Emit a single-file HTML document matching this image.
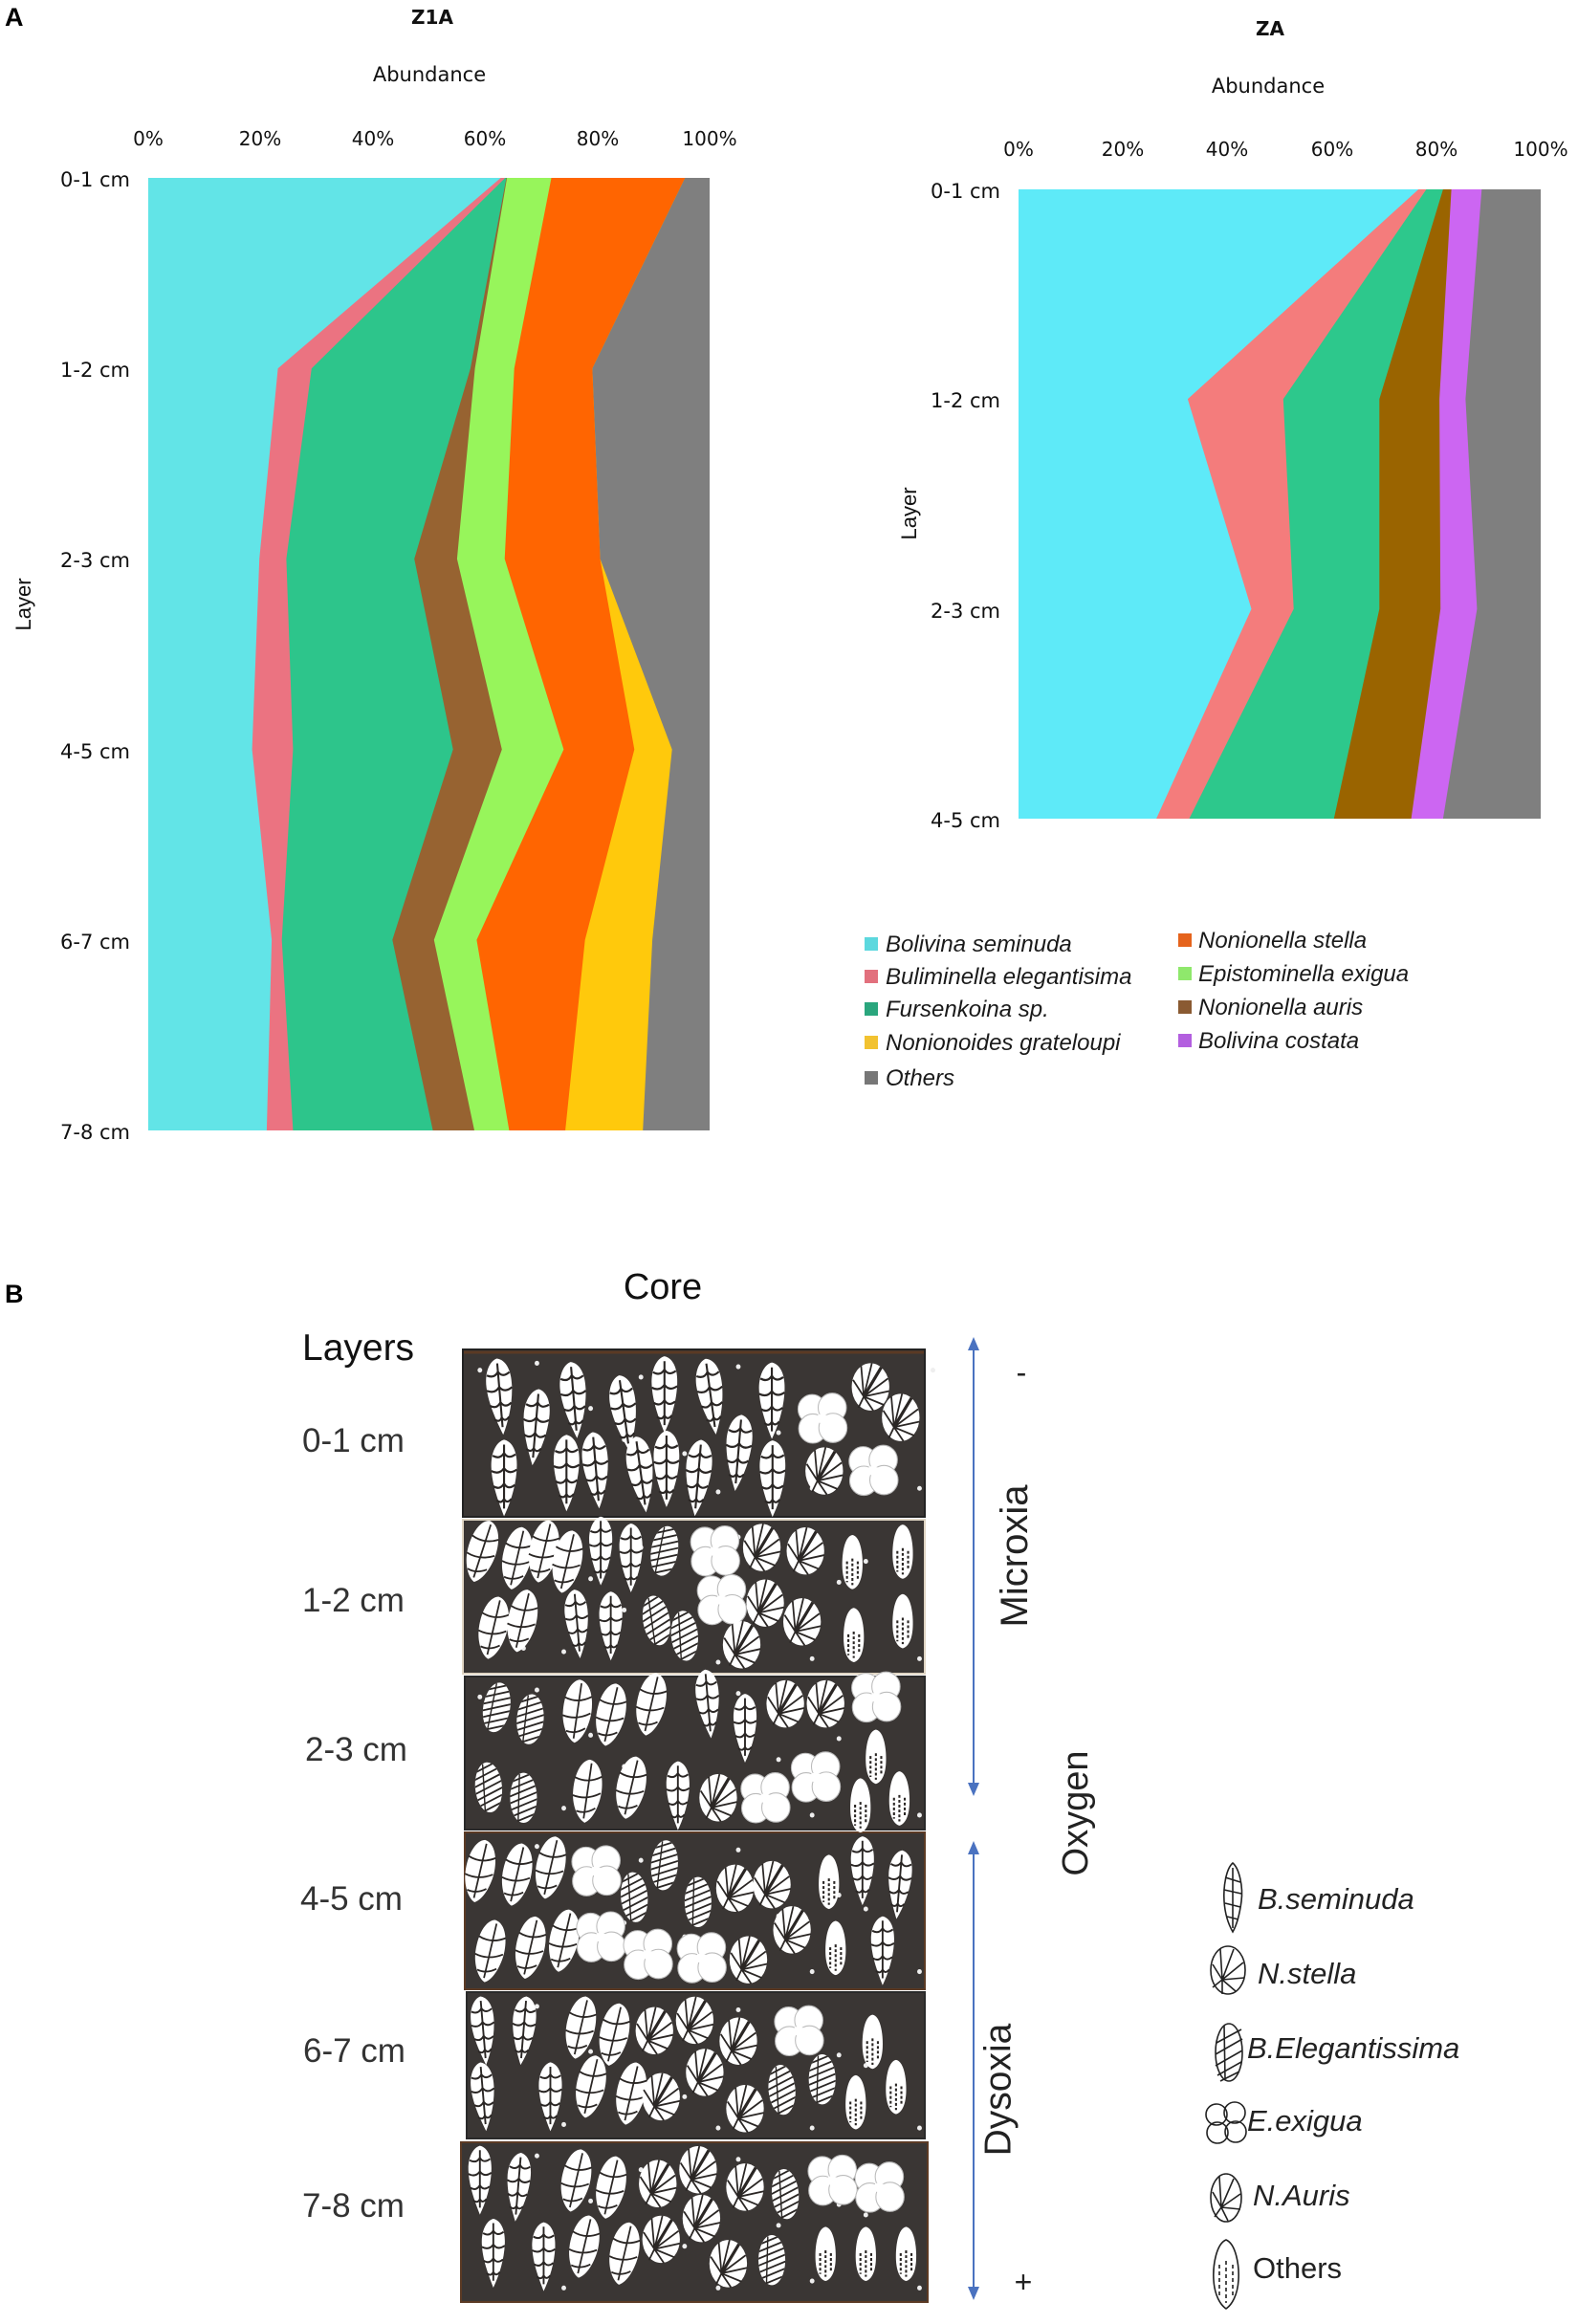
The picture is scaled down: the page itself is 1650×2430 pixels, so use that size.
<!DOCTYPE html>
<html><head><meta charset="utf-8"><style>
html,body{margin:0;padding:0;background:#fff;}
body{width:1650px;height:2430px;overflow:hidden;}
svg{display:block;}
.dv{font-family:"DejaVu Sans","Liberation Sans",sans-serif;fill:#111;}
.ls{font-family:"Liberation Sans",Arial,sans-serif;fill:#222;}
</style></head><body>
<svg width="1650" height="2430" viewBox="0 0 1650 2430" xmlns="http://www.w3.org/2000/svg">
<defs>
  <g id="L">
    <path d="M0,-55 C14,-52 20,-35 19,-15 C18,10 10,35 0,55 C-8,35 -18,10 -19,-15 C-20,-35 -12,-52 0,-55Z" fill="#fff"/>
    <path d="M-17,-32 Q-6,-26 0,-36 Q6,-26 17,-34 M-19,-10 Q-7,-4 0,-14 Q7,-4 19,-12 M-16,12 Q-6,18 0,8 Q6,18 16,10 M-11,32 Q-4,38 0,30 Q4,38 11,30 M0,-48 L0,44" stroke="#2a2624" stroke-width="3" fill="none"/>
  </g>
  <g id="P">
    <path d="M0,-45 C20,-42 24,-10 20,10 C16,30 8,42 0,46 C-10,42 -20,25 -21,5 C-22,-20 -14,-42 0,-45Z" fill="#fff"/>
    <path d="M-20,-18 Q0,-10 20,-22 M-21,8 Q0,14 20,2 M-14,30 Q0,34 14,24 M3,-40 L-2,40" stroke="#2a2624" stroke-width="2.5" fill="none"/>
  </g>
  <g id="S">
    <ellipse cx="0" cy="0" rx="28" ry="34" fill="#fff"/>
    <path d="M-10,14 L-26,-10 M-10,14 L-14,-30 M-10,14 L2,-34 M-10,14 L26,-12 M-10,14 L28,6 M-10,14 L20,26 M-10,14 L4,34 M-10,14 L-18,30" stroke="#2a2624" stroke-width="2.5" fill="none"/>
    <path d="M-10,14 L16,-28" stroke="#2a2624" stroke-width="4.5"/>
  </g>
  <g id="C">
    <circle cx="-15" cy="-13" r="21" fill="#fff" stroke="#bbb" stroke-width="1.5"/>
    <circle cx="15" cy="-15" r="21" fill="#fff" stroke="#bbb" stroke-width="1.5"/>
    <circle cx="-14" cy="15" r="21" fill="#fff" stroke="#bbb" stroke-width="1.5"/>
    <circle cx="16" cy="14" r="21" fill="#fff" stroke="#bbb" stroke-width="1.5"/>
    <path d="M-6,-6 L8,-4 L4,8 L-8,6Z" fill="#fff"/>
  </g>
  <clipPath id="ce"><ellipse cx="0" cy="0" rx="20" ry="36"/></clipPath>
  <g id="E">
    <ellipse cx="0" cy="0" rx="20" ry="36" fill="#fff"/>
    <g clip-path="url(#ce)" stroke="#2a2624" stroke-width="2.5">
      <path d="M-25,-30 L25,-50 M-25,-20 L25,-40 M-25,-10 L25,-30 M-25,0 L25,-20 M-25,10 L25,-10 M-25,20 L25,0 M-25,30 L25,10 M-25,40 L25,20 M-25,50 L25,30 M-25,60 L25,40"/>
    </g>
    <path d="M-6,-34 L-8,34" stroke="#2a2624" stroke-width="2"/>
  </g>
  <g id="O">
    <path d="M0,-38 C12,-36 16,-10 15,10 C14,28 8,38 0,40 C-8,38 -14,28 -15,10 C-16,-10 -12,-36 0,-38Z" fill="#fff"/>
    <path d="M-8,0 L-8,30 M0,-4 L0,34 M8,0 L8,28" stroke="#2a2624" stroke-width="3" stroke-dasharray="4 3"/>
  </g>
</defs>

<!-- ===== PANEL A ===== -->
<text x="5" y="27" class="ls" style="font-weight:bold;font-size:27px;fill:#000">A</text>

<!-- Z1A chart -->
<text x="452" y="25" text-anchor="middle" class="dv" style="font-weight:bold;font-size:20px">Z1A</text>
<text x="449" y="85" text-anchor="middle" class="dv" style="font-size:21px">Abundance</text>
<g class="dv" style="font-size:20px" text-anchor="middle">
  <text x="155" y="152">0%</text><text x="272" y="152">20%</text><text x="390" y="152">40%</text>
  <text x="507" y="152">60%</text><text x="625" y="152">80%</text><text x="742" y="152">100%</text>
</g>
<g class="dv" style="font-size:21px" text-anchor="end">
  <text x="136" y="195">0-1 cm</text><text x="136" y="394">1-2 cm</text><text x="136" y="593">2-3 cm</text>
  <text x="136" y="793">4-5 cm</text><text x="136" y="992">6-7 cm</text><text x="136" y="1191">7-8 cm</text>
</g>
<text transform="translate(32,632) rotate(-90)" text-anchor="middle" class="ls" style="font-size:22px;fill:#111">Layer</text>

<rect x="155" y="186" width="587" height="996" fill="#7f7f7f"/>
<polygon fill="#ffc90c" points="155,186 716.2,186 619.3,385.2 627.5,584.4 702.7,783.6 682.1,982.8 672.2,1182 155,1182"/>
<polygon fill="#ff6501" points="155,186 716.2,186 619.3,385.2 627.5,584.4 663.3,783.6 611.7,982.8 591.1,1182 155,1182"/>
<polygon fill="#97f55b" points="155,186 576.5,186 537.7,385.2 527.7,584.4 589.4,783.6 498.4,982.8 532.4,1182 155,1182"/>
<polygon fill="#976331" points="155,186 530.1,186 496.6,385.2 477.9,584.4 524.8,783.6 453.8,982.8 496,1182 155,1182"/>
<polygon fill="#2dc58b" points="155,186 529.5,186 491.9,385.2 433.2,584.4 473.7,783.6 410.3,982.8 452.6,1182 155,1182"/>
<polygon fill="#eb7381" points="155,186 528.3,186 325.8,385.2 299.4,584.4 306.4,783.6 294.7,982.8 306.4,1182 155,1182"/>
<polygon fill="#62e4e7" points="155,186 523.6,186 290.6,385.2 271.2,584.4 263.6,783.6 284.1,982.8 278.9,1182 155,1182"/>

<!-- ZA chart -->
<text x="1328" y="37" text-anchor="middle" class="dv" style="font-weight:bold;font-size:20px">ZA</text>
<text x="1326" y="97" text-anchor="middle" class="dv" style="font-size:21px">Abundance</text>
<g class="dv" style="font-size:20px" text-anchor="middle">
  <text x="1065" y="163">0%</text><text x="1174" y="163">20%</text><text x="1283" y="163">40%</text>
  <text x="1393" y="163">60%</text><text x="1502" y="163">80%</text><text x="1611" y="163">100%</text>
</g>
<g class="dv" style="font-size:21px" text-anchor="end">
  <text x="1046" y="207">0-1 cm</text><text x="1046" y="426">1-2 cm</text>
  <text x="1046" y="646">2-3 cm</text><text x="1046" y="865">4-5 cm</text>
</g>
<text transform="translate(958,537) rotate(-90)" text-anchor="middle" class="ls" style="font-size:22px;fill:#111">Layer</text>

<rect x="1065" y="198" width="546" height="658" fill="#7f7f7f"/>
<polygon fill="#cc66f2" points="1065,198 1549.3,198 1532.4,417.3 1544.4,636.7 1508.9,856 1065,856"/>
<polygon fill="#9a6400" points="1065,198 1517.6,198 1505.1,417.3 1506.2,636.7 1475.6,856 1065,856"/>
<polygon fill="#2dc88c" points="1065,198 1508.9,198 1442.3,417.3 1442.3,636.7 1394.8,856 1065,856"/>
<polygon fill="#f47c7c" points="1065,198 1491.4,198 1341.8,417.3 1352.7,636.7 1243.5,856 1065,856"/>
<polygon fill="#5eeaf8" points="1065,198 1483.2,198 1241.9,417.3 1308.5,636.7 1209.1,856 1065,856"/>

<!-- Legend A -->
<g class="ls" style="font-size:24px;font-style:italic;fill:#1a1a1a">
  <rect x="904" y="980" width="14" height="14" fill="#5cd8de"/><text x="926" y="995">Bolivina seminuda</text>
  <rect x="904" y="1014" width="14" height="14" fill="#e2707d"/><text x="926" y="1029">Buliminella elegantisima</text>
  <rect x="904" y="1048" width="14" height="14" fill="#2aa67d"/><text x="926" y="1063">Fursenkoina sp.</text>
  <rect x="904" y="1083" width="14" height="14" fill="#f2c230"/><text x="926" y="1098">Nonionoides grateloupi</text>
  <rect x="904" y="1120" width="14" height="14" fill="#777"/><text x="926" y="1135">Others</text>
  <rect x="1232" y="976" width="14" height="14" fill="#e5631c"/><text x="1253" y="991">Nonionella stella</text>
  <rect x="1232" y="1011" width="14" height="14" fill="#8fe86c"/><text x="1253" y="1026">Epistominella exigua</text>
  <rect x="1232" y="1046" width="14" height="14" fill="#8a5a32"/><text x="1253" y="1061">Nonionella auris</text>
  <rect x="1232" y="1081" width="14" height="14" fill="#b35fdf"/><text x="1253" y="1096">Bolivina costata</text>
</g>

<!-- ===== PANEL B ===== -->
<text x="5" y="1362" class="ls" style="font-weight:bold;font-size:27px;fill:#000">B</text>
<text x="693" y="1358" text-anchor="middle" class="ls" style="font-size:38px;fill:#111">Core</text>
<text x="316" y="1422" class="ls" style="font-size:39px;fill:#111">Layers</text>
<g class="ls" style="font-size:35px;fill:#333">
  <text x="316" y="1518">0-1 cm</text>
  <text x="316" y="1685">1-2 cm</text>
  <text x="319" y="1841">2-3 cm</text>
  <text x="314" y="1997">4-5 cm</text>
  <text x="317" y="2156">6-7 cm</text>
  <text x="316" y="2318">7-8 cm</text>
</g>

<!-- core rows -->
<rect x="484" y="1411" width="483" height="175" fill="#3a3634" stroke="#222" stroke-width="2"/>
<line x1="485" y1="1414" x2="966" y2="1414" stroke="#5b3a24" stroke-width="3"/>
<rect x="484" y="1589" width="483" height="161" fill="#3a3634" stroke="#e0d6c4" stroke-width="2"/>
<rect x="486" y="1753" width="481" height="160" fill="#3a3634" stroke="#2a2a2a" stroke-width="2"/>
<rect x="486" y="1916" width="481" height="164" fill="#3a3634" stroke="#5b3a24" stroke-width="2"/>
<rect x="488" y="2083" width="479" height="153" fill="#3a3634" stroke="#2a2a2a" stroke-width="2"/>
<rect x="482" y="2240" width="488" height="167" fill="#3a3634" stroke="#5b3a24" stroke-width="2"/>

<g transform="translate(0,1280) scale(0.7018,0.727)">
  <!-- dots -->
  <g fill="#eee">
    <circle cx="715" cy="210" r="3.5"/><circle cx="800" cy="200" r="3.5"/><circle cx="880" cy="265" r="3.5"/><circle cx="955" cy="220" r="3.5"/><circle cx="1020" cy="330" r="3.5"/><circle cx="1100" cy="205" r="3.5"/><circle cx="1160" cy="300" r="3.5"/><circle cx="1210" cy="380" r="3.5"/><circle cx="1290" cy="240" r="3.5"/><circle cx="1330" cy="350" r="3.5"/><circle cx="1390" cy="210" r="3.5"/><circle cx="1250" cy="270" r="3.5"/><circle cx="840" cy="370" r="3.5"/><circle cx="1070" cy="385" r="3.5"/><circle cx="930" cy="310" r="3.5"/><circle cx="1370" cy="380" r="3.5"/>
    <circle cx="715" cy="455" r="3.5"/><circle cx="800" cy="445" r="3.5"/><circle cx="880" cy="510" r="3.5"/><circle cx="955" cy="465" r="3.5"/><circle cx="1020" cy="575" r="3.5"/><circle cx="1100" cy="450" r="3.5"/><circle cx="1160" cy="545" r="3.5"/><circle cx="1210" cy="625" r="3.5"/><circle cx="1290" cy="485" r="3.5"/><circle cx="1250" cy="515" r="3.5"/><circle cx="840" cy="615" r="3.5"/><circle cx="1070" cy="630" r="3.5"/><circle cx="930" cy="555" r="3.5"/><circle cx="1370" cy="625" r="3.5"/><circle cx="780" cy="610" r="3.5"/>
    <circle cx="715" cy="680" r="3.5"/><circle cx="800" cy="670" r="3.5"/><circle cx="880" cy="735" r="3.5"/><circle cx="955" cy="690" r="3.5"/><circle cx="1020" cy="800" r="3.5"/><circle cx="1100" cy="675" r="3.5"/><circle cx="1160" cy="770" r="3.5"/><circle cx="1210" cy="850" r="3.5"/><circle cx="1290" cy="710" r="3.5"/><circle cx="1250" cy="740" r="3.5"/><circle cx="840" cy="840" r="3.5"/><circle cx="1070" cy="855" r="3.5"/><circle cx="930" cy="780" r="3.5"/><circle cx="1370" cy="850" r="3.5"/>
    <circle cx="715" cy="905" r="3.5"/><circle cx="800" cy="895" r="3.5"/><circle cx="880" cy="960" r="3.5"/><circle cx="955" cy="915" r="3.5"/><circle cx="1020" cy="1025" r="3.5"/><circle cx="1100" cy="900" r="3.5"/><circle cx="1160" cy="995" r="3.5"/><circle cx="1210" cy="1075" r="3.5"/><circle cx="1290" cy="985" r="3.5"/><circle cx="1250" cy="965" r="3.5"/><circle cx="840" cy="1065" r="3.5"/><circle cx="1070" cy="1080" r="3.5"/><circle cx="930" cy="1005" r="3.5"/><circle cx="1370" cy="1075" r="3.5"/>
    <circle cx="715" cy="1135" r="3.5"/><circle cx="800" cy="1125" r="3.5"/><circle cx="880" cy="1190" r="3.5"/><circle cx="955" cy="1145" r="3.5"/><circle cx="1020" cy="1255" r="3.5"/><circle cx="1100" cy="1130" r="3.5"/><circle cx="1160" cy="1225" r="3.5"/><circle cx="1210" cy="1300" r="3.5"/><circle cx="1290" cy="1210" r="3.5"/><circle cx="1250" cy="1195" r="3.5"/><circle cx="840" cy="1295" r="3.5"/><circle cx="1070" cy="1300" r="3.5"/><circle cx="930" cy="1235" r="3.5"/><circle cx="1370" cy="1300" r="3.5"/>
    <circle cx="715" cy="1350" r="3.5"/><circle cx="800" cy="1340" r="3.5"/><circle cx="880" cy="1405" r="3.5"/><circle cx="955" cy="1360" r="3.5"/><circle cx="1020" cy="1470" r="3.5"/><circle cx="1100" cy="1345" r="3.5"/><circle cx="1160" cy="1440" r="3.5"/><circle cx="1210" cy="1520" r="3.5"/><circle cx="1290" cy="1425" r="3.5"/><circle cx="1250" cy="1410" r="3.5"/><circle cx="840" cy="1530" r="3.5"/><circle cx="1070" cy="1530" r="3.5"/><circle cx="930" cy="1450" r="3.5"/><circle cx="1370" cy="1530" r="3.5"/>
  </g>
  <!-- row 1 -->
  <use href="#L" transform="translate(745,248) rotate(-5)"/><use href="#L" transform="translate(798,292) rotate(5)"/><use href="#L" transform="translate(855,253) rotate(-5)"/><use href="#L" transform="translate(930,272) rotate(-8)"/><use href="#L" transform="translate(990,245)"/><use href="#L" transform="translate(1059,248) rotate(-8)"/><use href="#L" transform="translate(1100,329) rotate(5)"/><use href="#L" transform="translate(1150,254)"/><use href="#C" transform="translate(1225,279)"/><use href="#S" transform="translate(1297,234)"/><use href="#S" transform="translate(1342,278)"/>
  <use href="#L" transform="translate(751,365)"/><use href="#L" transform="translate(844,358)"/><use href="#L" transform="translate(888,354) rotate(-5)"/><use href="#L" transform="translate(955,360) rotate(-8)"/><use href="#L" transform="translate(993,352)"/><use href="#L" transform="translate(1040,365) rotate(5)"/><use href="#L" transform="translate(1151,366)"/><use href="#S" transform="translate(1228,355)"/><use href="#C" transform="translate(1301,354)"/>
  <!-- row 2 -->
  <use href="#P" transform="translate(718,470) rotate(15)"/><use href="#P" transform="translate(770,480) rotate(10)"/><use href="#P" transform="translate(810,470) rotate(10)"/><use href="#P" transform="translate(845,485) rotate(10)"/><use href="#L" transform="translate(895,470) scale(0.9)"/><use href="#L" transform="translate(940,480) scale(0.9)"/><use href="#E" transform="translate(990,470) rotate(10)"/><use href="#C" transform="translate(1065,470)"/><use href="#S" transform="translate(1135,465)"/><use href="#S" transform="translate(1200,470)"/><use href="#O" transform="translate(1270,485)"/><use href="#O" transform="translate(1345,470)"/>
  <use href="#P" transform="translate(735,580) rotate(10)"/><use href="#P" transform="translate(778,570) rotate(10)"/><use href="#L" transform="translate(860,575) rotate(-5) scale(0.9)"/><use href="#L" transform="translate(910,578) scale(0.9)"/><use href="#E" transform="translate(978,570) rotate(-10)"/><use href="#E" transform="translate(1020,592) rotate(-5)"/><use href="#C" transform="translate(1075,540)"/><use href="#S" transform="translate(1140,545)"/><use href="#S" transform="translate(1195,572)"/><use href="#S" transform="translate(1105,605)"/><use href="#O" transform="translate(1272,590)"/><use href="#O" transform="translate(1345,570)"/>
  <!-- row 3 -->
  <use href="#E" transform="translate(740,695) rotate(10)"/><use href="#E" transform="translate(790,712) rotate(5)"/><use href="#P" transform="translate(860,700) rotate(5)"/><use href="#P" transform="translate(910,705) rotate(10)"/><use href="#P" transform="translate(970,690) rotate(10)"/><use href="#L" transform="translate(1055,690) rotate(-5) scale(0.9)"/><use href="#L" transform="translate(1110,725) scale(0.9)"/><use href="#S" transform="translate(1170,690)"/><use href="#S" transform="translate(1230,690)"/><use href="#C" transform="translate(1305,680)"/><use href="#O" transform="translate(1305,765)"/>
  <use href="#E" transform="translate(728,810) rotate(-5)"/><use href="#E" transform="translate(780,825)"/><use href="#P" transform="translate(875,815) rotate(5)"/><use href="#P" transform="translate(940,810) rotate(10)"/><use href="#L" transform="translate(1010,822) scale(0.9)"/><use href="#S" transform="translate(1070,825)"/><use href="#C" transform="translate(1140,825)"/><use href="#C" transform="translate(1215,795)"/><use href="#O" transform="translate(1282,835)"/><use href="#O" transform="translate(1340,825)"/>
  <!-- row 4 -->
  <use href="#P" transform="translate(715,930) rotate(10)"/><use href="#P" transform="translate(770,935) rotate(10)"/><use href="#P" transform="translate(820,925) rotate(10)"/><use href="#C" transform="translate(888,930)"/><use href="#E" transform="translate(945,968) rotate(-5)"/><use href="#E" transform="translate(990,922) rotate(5)"/><use href="#E" transform="translate(1040,975)"/><use href="#S" transform="translate(1095,955)"/><use href="#S" transform="translate(1150,950)"/><use href="#O" transform="translate(1235,945)"/><use href="#L" transform="translate(1285,930) scale(0.9)"/><use href="#L" transform="translate(1340,950) rotate(5) scale(0.9)"/>
  <use href="#P" transform="translate(730,1045) rotate(10)"/><use href="#P" transform="translate(790,1040) rotate(10)"/><use href="#P" transform="translate(840,1030) rotate(10)"/><use href="#C" transform="translate(895,1025)"/><use href="#C" transform="translate(965,1050)"/><use href="#C" transform="translate(1045,1055)"/><use href="#S" transform="translate(1115,1058)"/><use href="#S" transform="translate(1180,1015)"/><use href="#O" transform="translate(1245,1040)"/><use href="#L" transform="translate(1315,1045) scale(0.9)"/>
  <!-- row 5 -->
  <use href="#L" transform="translate(720,1160) rotate(-5) scale(0.9)"/><use href="#L" transform="translate(780,1160) rotate(5) scale(0.9)"/><use href="#P" transform="translate(865,1155) rotate(10)"/><use href="#P" transform="translate(915,1165) rotate(10)"/><use href="#S" transform="translate(975,1160)"/><use href="#S" transform="translate(1035,1145)"/><use href="#S" transform="translate(1100,1175)"/><use href="#C" transform="translate(1190,1160)"/><use href="#O" transform="translate(1300,1175)"/>
  <use href="#L" transform="translate(720,1255) rotate(-5) scale(0.9)"/><use href="#L" transform="translate(820,1255) scale(0.9)"/><use href="#P" transform="translate(880,1240) rotate(10)"/><use href="#P" transform="translate(940,1250) rotate(10)"/><use href="#S" transform="translate(985,1255)"/><use href="#S" transform="translate(1050,1220)"/><use href="#S" transform="translate(1110,1272)"/><use href="#E" transform="translate(1165,1245) rotate(-5)"/><use href="#E" transform="translate(1225,1230)"/><use href="#O" transform="translate(1275,1262)"/><use href="#O" transform="translate(1335,1240)"/>
  <!-- row 6 -->
  <use href="#L" transform="translate(715,1375) scale(0.9)"/><use href="#L" transform="translate(772,1385) rotate(5) scale(0.9)"/><use href="#P" transform="translate(858,1375) rotate(10)"/><use href="#P" transform="translate(910,1385) rotate(10)"/><use href="#S" transform="translate(980,1380)"/><use href="#S" transform="translate(1040,1360)"/><use href="#S" transform="translate(1110,1385)"/><use href="#E" transform="translate(1170,1395) rotate(-5)"/><use href="#C" transform="translate(1240,1375)"/><use href="#C" transform="translate(1310,1385)"/>
  <use href="#L" transform="translate(735,1480) scale(0.9)"/><use href="#L" transform="translate(810,1485) scale(0.9)"/><use href="#P" transform="translate(870,1470) rotate(10)"/><use href="#P" transform="translate(930,1480) rotate(10)"/><use href="#S" transform="translate(985,1460)"/><use href="#S" transform="translate(1045,1430)"/><use href="#S" transform="translate(1085,1495)"/><use href="#E" transform="translate(1150,1490)"/><use href="#O" transform="translate(1230,1480)"/><use href="#O" transform="translate(1290,1480)"/><use href="#O" transform="translate(1350,1480)"/>
</g>

<!-- arrows -->
<g stroke="#4a72c0" stroke-width="2" fill="#4a72c0">
  <line x1="1018" y1="1408" x2="1018" y2="1868"/>
  <polygon points="1018,1398 1012,1412 1024,1412" stroke="none"/>
  <polygon points="1018,1878 1012,1864 1024,1864" stroke="none"/>
  <line x1="1018" y1="1935" x2="1018" y2="2395"/>
  <polygon points="1018,1925 1012,1939 1024,1939" stroke="none"/>
  <polygon points="1018,2405 1012,2391 1024,2391" stroke="none"/>
</g>
<text x="1068" y="1446" text-anchor="middle" class="ls" style="font-size:32px;fill:#222">-</text>
<text x="1070" y="2397" text-anchor="middle" class="ls" style="font-size:32px;fill:#222">+</text>
<text transform="translate(1061,1627) rotate(-90)" text-anchor="middle" dominant-baseline="central" class="ls" style="font-size:40px;fill:#222">Microxia</text>
<text transform="translate(1044,2185) rotate(-90)" text-anchor="middle" dominant-baseline="central" class="ls" style="font-size:39px;fill:#222">Dysoxia</text>
<text transform="translate(1125,1896) rotate(-90)" text-anchor="middle" dominant-baseline="central" class="ls" style="font-size:38px;fill:#222">Oxygen</text>

<!-- legend B icons -->
<g fill="none" stroke="#222" stroke-width="1.6" transform="translate(0,8)">
  <path d="M1289,1940 C1296,1946 1300,1965 1298,1980 C1296,1995 1293,2005 1289,2012 C1285,2005 1281,1995 1280,1980 C1279,1965 1282,1946 1289,1940Z"/>
  <path d="M1281,1955 L1297,1960 M1280,1968 L1298,1972 M1281,1982 L1297,1986 M1283,1996 L1295,1999 M1289,1945 L1289,2008"/>
  <ellipse cx="1284" cy="2052" rx="18" ry="25"/>
  <path d="M1278,2062 L1268,2046 M1278,2062 L1276,2030 M1278,2062 L1290,2030 M1278,2062 L1300,2044 M1278,2062 L1301,2060 M1278,2062 L1292,2074 M1278,2062 L1278,2077 M1278,2062 L1268,2070"/>
  <ellipse cx="1285" cy="2138" rx="14" ry="30"/>
  <path d="M1272,2128 L1298,2114 M1271,2140 L1299,2124 M1271,2152 L1299,2136 M1273,2162 L1298,2148 M1276,2168 L1296,2158 M1280,2110 L1281,2166"/>
  <circle cx="1272" cy="2203" r="11"/><circle cx="1291" cy="2201" r="11"/><circle cx="1273" cy="2222" r="11"/><circle cx="1292" cy="2221" r="11"/>
  <ellipse cx="1282" cy="2290" rx="16" ry="25"/>
  <path d="M1277,2300 L1268,2284 M1277,2300 L1275,2268 M1277,2300 L1290,2270 M1277,2300 L1297,2286 M1277,2300 L1297,2302 M1277,2300 L1284,2314 M1277,2300 L1270,2310"/>
  <path d="M1282,2334 C1292,2338 1296,2360 1295,2376 C1294,2392 1288,2402 1282,2406 C1276,2402 1270,2392 1269,2376 C1268,2360 1272,2338 1282,2334Z"/>
  <path d="M1275,2360 L1275,2395 M1282,2356 L1282,2400 M1289,2360 L1289,2395" stroke-dasharray="4 3"/>
</g>
<g class="ls" style="font-size:31px;font-style:italic;fill:#222">
  <text x="1315" y="1996">B.seminuda</text>
  <text x="1315" y="2074">N.stella</text>
  <text x="1304" y="2152">B.Elegantissima</text>
  <text x="1304" y="2228">E.exigua</text>
  <text x="1310" y="2306">N.Auris</text>
  <text x="1310" y="2382" style="font-style:normal">Others</text>
</g>
</svg>
</body></html>
